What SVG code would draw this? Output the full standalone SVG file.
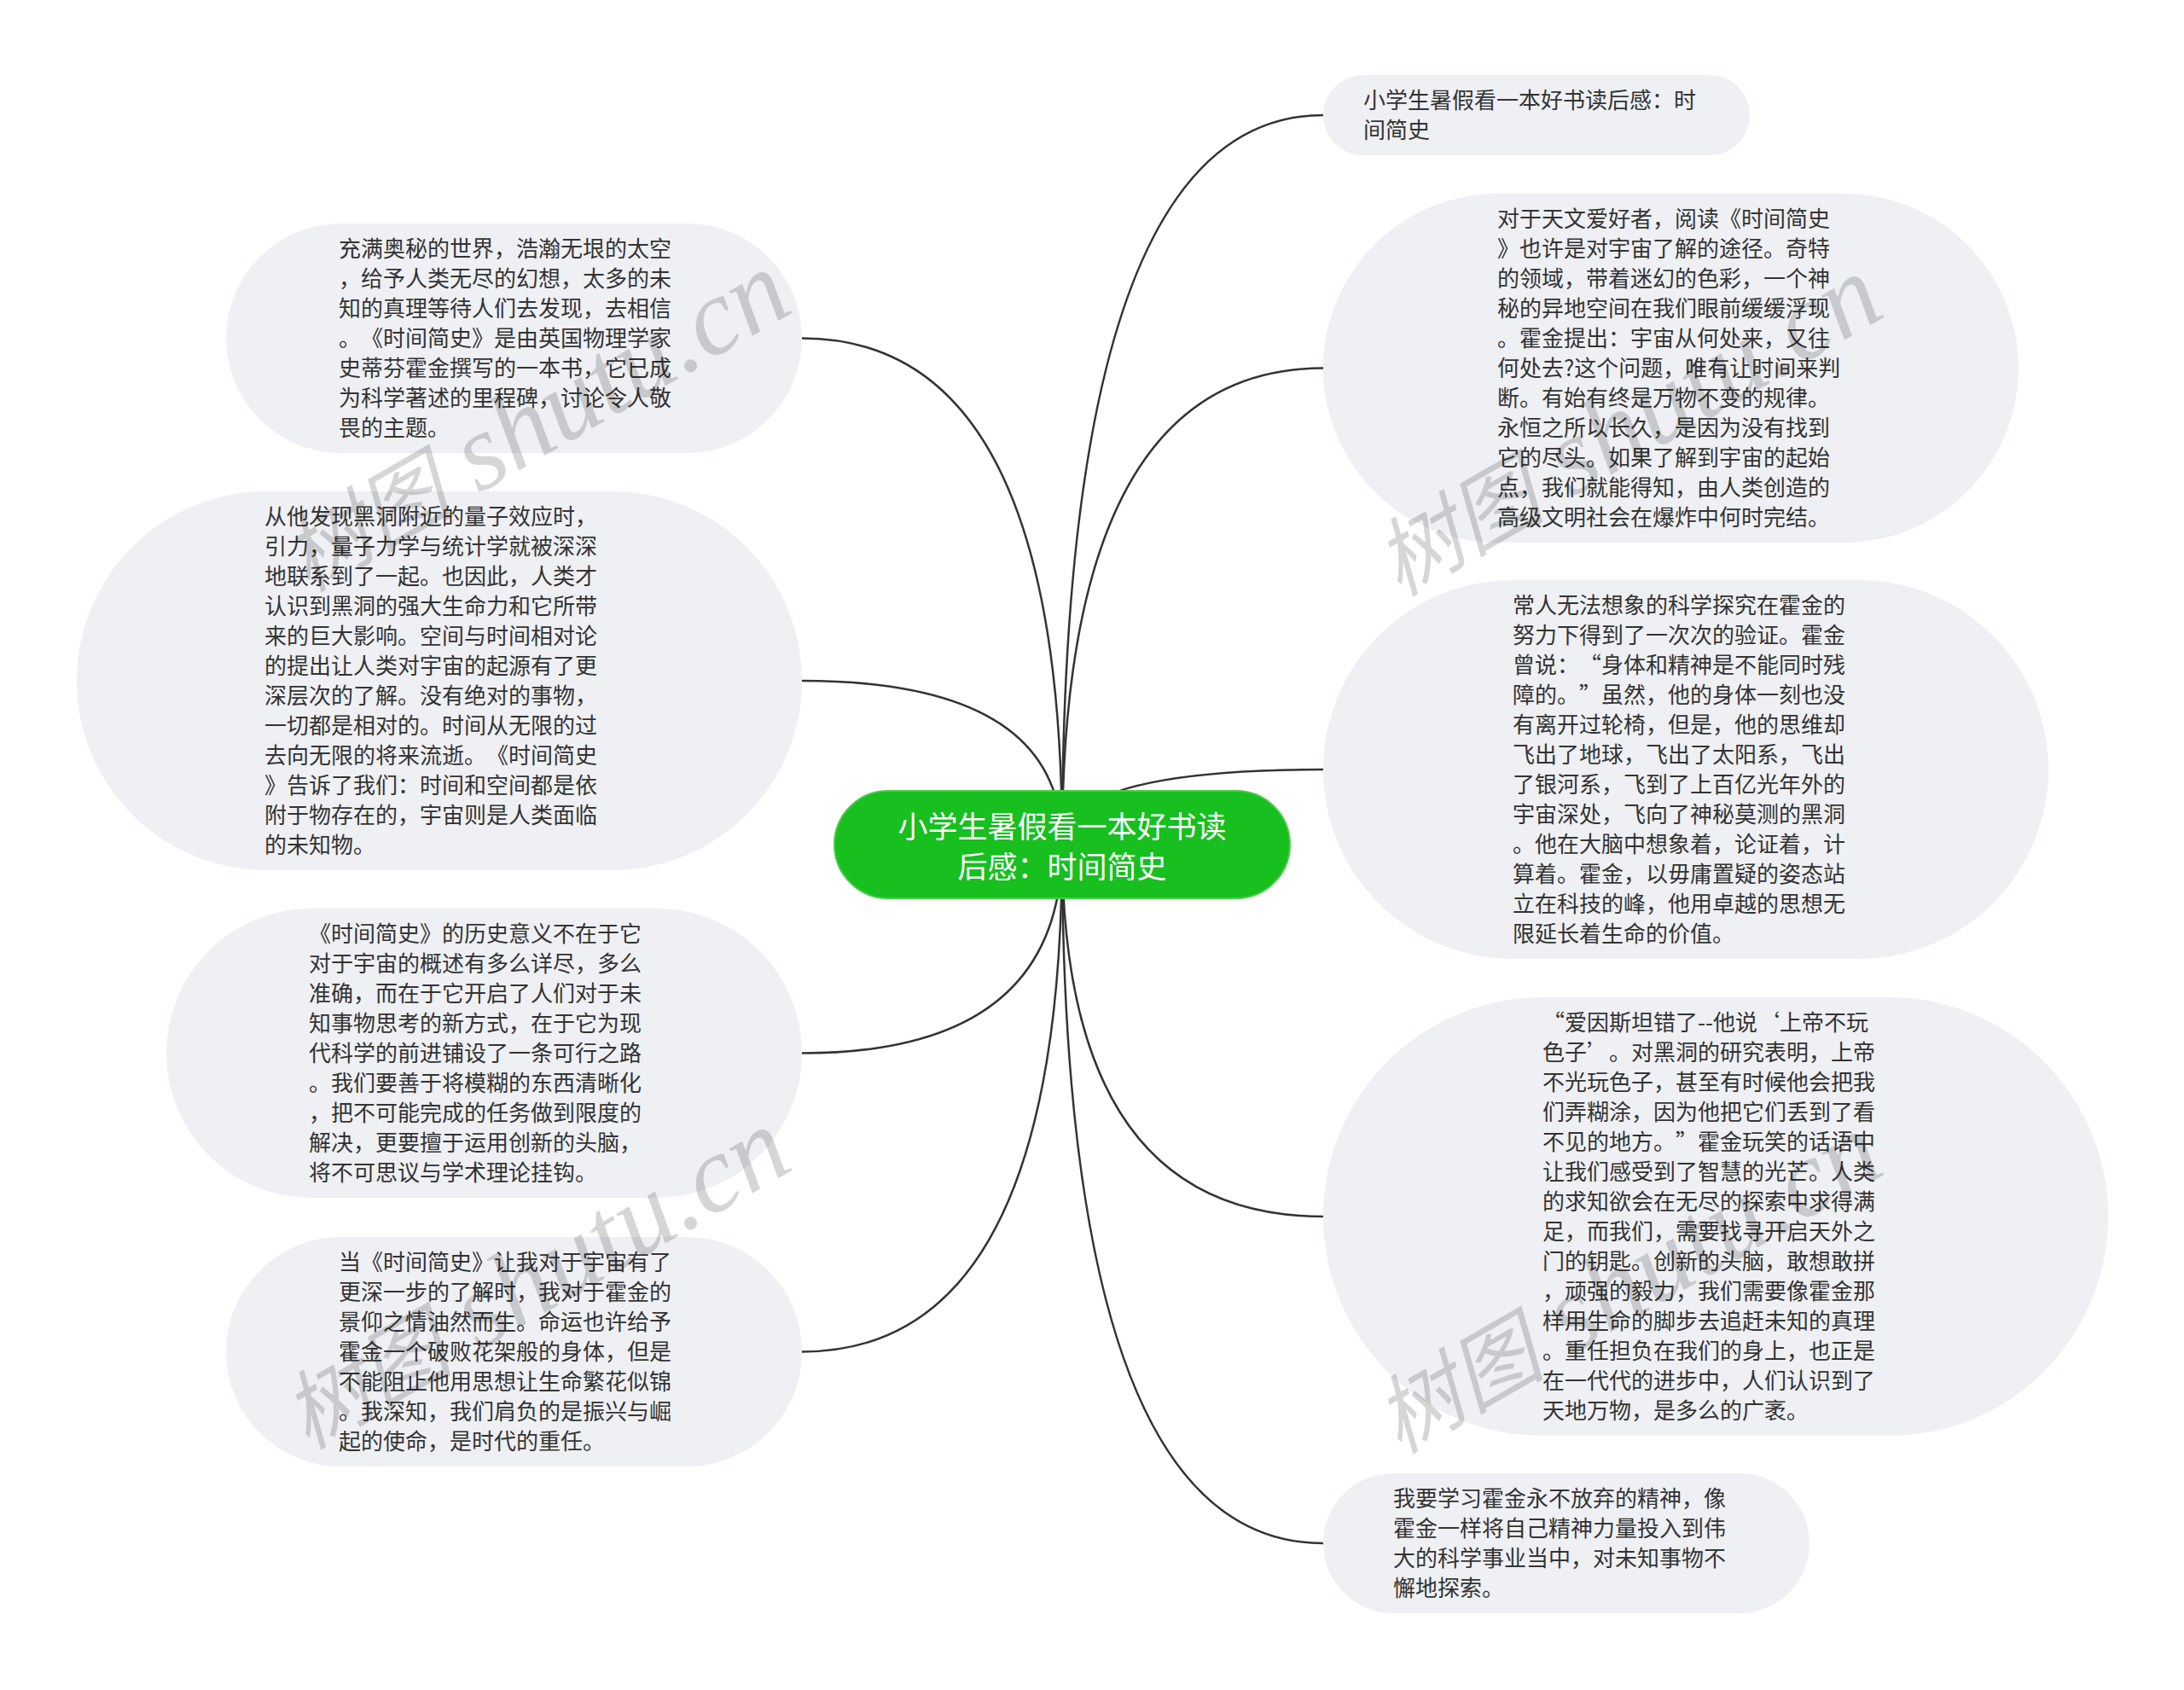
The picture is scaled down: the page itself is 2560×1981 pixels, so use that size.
<svg xmlns="http://www.w3.org/2000/svg" width="2560" height="1981" viewBox="0 0 2560 1981">
<style>
.node rect{fill:#eef0f3}
.t{font-family:"Noto Sans CJK SC","Liberation Sans",sans-serif;font-size:26px;fill:#333;text-spacing-trim:space-all}
.fw{font-feature-settings:"fwid" 1}
.root rect{fill:#17bf1f;stroke:#4ccb4c;stroke-width:2}
.rt{font-family:"Noto Sans CJK SC","Liberation Sans",sans-serif;font-size:35px;fill:#fff;text-anchor:middle;text-spacing-trim:space-all}
.links path{fill:none;stroke:#333;stroke-width:2.5}
.wm{font-family:"Liberation Serif","Noto Sans CJK SC",serif;font-style:italic;fill:#000;fill-opacity:0.16}
.wm .c{font-family:"Noto Sans CJK SC",sans-serif;font-size:100px}
.wm .l{font-size:128px}
</style>
<rect width="2560" height="1981" fill="#fff"/>
<g class="links">
<path d="M1245 990 Q1245 135 1551 135"/>
<path d="M1245 990 Q1245 431.5 1551 431.5"/>
<path d="M1245 990 Q1245 902 1551 902"/>
<path d="M1245 990 Q1245 1426 1551 1426"/>
<path d="M1245 990 Q1245 1809 1551 1809"/>
<path d="M1245 990 Q1245 396.5 940 396.5"/>
<path d="M1245 990 Q1245 798 940 798"/>
<path d="M1245 990 Q1245 1234.5 940 1234.5"/>
<path d="M1245 990 Q1245 1584.5 940 1584.5"/>
</g>
<g id="root" class="root">
<rect x="978" y="927" width="534" height="126" rx="63"/>
<text class="rt"><tspan x="1245" y="982">小学生暑假看一本好书读</tspan><tspan x="1245" y="1029">后感：时间简史</tspan></text>
</g>
<g id="r1" class="node">
<rect x="1551" y="88" width="500" height="94" rx="47"/>
<text class="t"><tspan x="1598" y="126.5">小学生暑假看一本好书读后感：时</tspan><tspan x="1598" y="161.5">间简史</tspan></text>
</g>
<g id="r2" class="node">
<rect x="1551" y="227" width="815" height="409" rx="204.5"/>
<text class="t">
<tspan x="1755" y="265.5">对于天文爱好者，阅读《时间简史</tspan>
<tspan x="1755" y="300.5">》也许是对宇宙了解的途径。奇特</tspan>
<tspan x="1755" y="335.5">的领域，带着迷幻的色彩，一个神</tspan>
<tspan x="1755" y="370.5">秘的异地空间在我们眼前缓缓浮现</tspan>
<tspan x="1755" y="405.5">。霍金提出：宇宙从何处来，又往</tspan>
<tspan x="1755" y="440.5">何处去?这个问题，唯有让时间来判</tspan>
<tspan x="1755" y="475.5">断。有始有终是万物不变的规律。</tspan>
<tspan x="1755" y="510.5">永恒之所以长久，是因为没有找到</tspan>
<tspan x="1755" y="545.5">它的尽头。如果了解到宇宙的起始</tspan>
<tspan x="1755" y="580.5">点，我们就能得知，由人类创造的</tspan>
<tspan x="1755" y="615.5">高级文明社会在爆炸中何时完结。</tspan>
</text>
</g>
<g id="r3" class="node">
<rect x="1551" y="680" width="850" height="444" rx="222"/>
<text class="t">
<tspan x="1773" y="718.5">常人无法想象的科学探究在霍金的</tspan>
<tspan x="1773" y="753.5">努力下得到了一次次的验证。霍金</tspan>
<tspan x="1773" y="788.5">曾说：<tspan class="fw">“</tspan>身体和精神是不能同时残</tspan>
<tspan x="1773" y="823.5">障的。<tspan class="fw">”</tspan>虽然，他的身体一刻也没</tspan>
<tspan x="1773" y="858.5">有离开过轮椅，但是，他的思维却</tspan>
<tspan x="1773" y="893.5">飞出了地球，飞出了太阳系，飞出</tspan>
<tspan x="1773" y="928.5">了银河系，飞到了上百亿光年外的</tspan>
<tspan x="1773" y="963.5">宇宙深处，飞向了神秘莫测的黑洞</tspan>
<tspan x="1773" y="998.5">。他在大脑中想象着，论证着，计</tspan>
<tspan x="1773" y="1033.5">算着。霍金，以毋庸置疑的姿态站</tspan>
<tspan x="1773" y="1068.5">立在科技的峰，他用卓越的思想无</tspan>
<tspan x="1773" y="1103.5">限延长着生命的价值。</tspan>
</text>
</g>
<g id="r4" class="node">
<rect x="1551" y="1169" width="920" height="514" rx="257"/>
<text class="t">
<tspan x="1808" y="1207.5"><tspan class="fw">“</tspan>爱因斯坦错了--他说<tspan class="fw">‘</tspan>上帝不玩</tspan>
<tspan x="1808" y="1242.5">色子<tspan class="fw">’</tspan>。对黑洞的研究表明，上帝</tspan>
<tspan x="1808" y="1277.5">不光玩色子，甚至有时候他会把我</tspan>
<tspan x="1808" y="1312.5">们弄糊涂，因为他把它们丢到了看</tspan>
<tspan x="1808" y="1347.5">不见的地方。<tspan class="fw">”</tspan>霍金玩笑的话语中</tspan>
<tspan x="1808" y="1382.5">让我们感受到了智慧的光芒。人类</tspan>
<tspan x="1808" y="1417.5">的求知欲会在无尽的探索中求得满</tspan>
<tspan x="1808" y="1452.5">足，而我们，需要找寻开启天外之</tspan>
<tspan x="1808" y="1487.5">门的钥匙。创新的头脑，敢想敢拼</tspan>
<tspan x="1808" y="1522.5">，顽强的毅力，我们需要像霍金那</tspan>
<tspan x="1808" y="1557.5">样用生命的脚步去追赶未知的真理</tspan>
<tspan x="1808" y="1592.5">。重任担负在我们的身上，也正是</tspan>
<tspan x="1808" y="1627.5">在一代代的进步中，人们认识到了</tspan>
<tspan x="1808" y="1662.5">天地万物，是多么的广袤。</tspan>
</text>
</g>
<g id="r5" class="node">
<rect x="1551" y="1727" width="570" height="164" rx="82"/>
<text class="t">
<tspan x="1633" y="1765.5">我要学习霍金永不放弃的精神，像</tspan>
<tspan x="1633" y="1800.5">霍金一样将自己精神力量投入到伟</tspan>
<tspan x="1633" y="1835.5">大的科学事业当中，对未知事物不</tspan>
<tspan x="1633" y="1870.5">懈地探索。</tspan>
</text>
</g>
<g id="l1" class="node">
<rect x="265" y="262" width="675" height="269" rx="134.5"/>
<text class="t">
<tspan x="397" y="300.5">充满奥秘的世界，浩瀚无垠的太空</tspan>
<tspan x="397" y="335.5">，给予人类无尽的幻想，太多的未</tspan>
<tspan x="397" y="370.5">知的真理等待人们去发现，去相信</tspan>
<tspan x="397" y="405.5">。《时间简史》是由英国物理学家</tspan>
<tspan x="397" y="440.5">史蒂芬霍金撰写的一本书，它已成</tspan>
<tspan x="397" y="475.5">为科学著述的里程碑，讨论令人敬</tspan>
<tspan x="397" y="510.5">畏的主题。</tspan>
</text>
</g>
<g id="l2" class="node">
<rect x="90" y="576" width="850" height="444" rx="222"/>
<text class="t">
<tspan x="310" y="614.5">从他发现黑洞附近的量子效应时，</tspan>
<tspan x="310" y="649.5">引力，量子力学与统计学就被深深</tspan>
<tspan x="310" y="684.5">地联系到了一起。也因此，人类才</tspan>
<tspan x="310" y="719.5">认识到黑洞的强大生命力和它所带</tspan>
<tspan x="310" y="754.5">来的巨大影响。空间与时间相对论</tspan>
<tspan x="310" y="789.5">的提出让人类对宇宙的起源有了更</tspan>
<tspan x="310" y="824.5">深层次的了解。没有绝对的事物，</tspan>
<tspan x="310" y="859.5">一切都是相对的。时间从无限的过</tspan>
<tspan x="310" y="894.5">去向无限的将来流逝。《时间简史</tspan>
<tspan x="310" y="929.5">》告诉了我们：时间和空间都是依</tspan>
<tspan x="310" y="964.5">附于物存在的，宇宙则是人类面临</tspan>
<tspan x="310" y="999.5">的未知物。</tspan>
</text>
</g>
<g id="l3" class="node">
<rect x="195" y="1065" width="745" height="339" rx="169.5"/>
<text class="t">
<tspan x="362" y="1103.5">《时间简史》的历史意义不在于它</tspan>
<tspan x="362" y="1138.5">对于宇宙的概述有多么详尽，多么</tspan>
<tspan x="362" y="1173.5">准确，而在于它开启了人们对于未</tspan>
<tspan x="362" y="1208.5">知事物思考的新方式，在于它为现</tspan>
<tspan x="362" y="1243.5">代科学的前进铺设了一条可行之路</tspan>
<tspan x="362" y="1278.5">。我们要善于将模糊的东西清晰化</tspan>
<tspan x="362" y="1313.5">，把不可能完成的任务做到限度的</tspan>
<tspan x="362" y="1348.5">解决，更要擅于运用创新的头脑，</tspan>
<tspan x="362" y="1383.5">将不可思议与学术理论挂钩。</tspan>
</text>
</g>
<g id="l4" class="node">
<rect x="265" y="1450" width="675" height="269" rx="134.5"/>
<text class="t">
<tspan x="397" y="1488.5">当《时间简史》让我对于宇宙有了</tspan>
<tspan x="397" y="1523.5">更深一步的了解时，我对于霍金的</tspan>
<tspan x="397" y="1558.5">景仰之情油然而生。命运也许给予</tspan>
<tspan x="397" y="1593.5">霍金一个破败花架般的身体，但是</tspan>
<tspan x="397" y="1628.5">不能阻止他用思想让生命繁花似锦</tspan>
<tspan x="397" y="1663.5">。我深知，我们肩负的是振兴与崛</tspan>
<tspan x="397" y="1698.5">起的使命，是时代的重任。</tspan>
</text>
</g>
<g id="watermark" class="wm">
<text transform="translate(360 695) rotate(-30)"><tspan class="c">树图</tspan><tspan class="l"> shutu.cn</tspan></text>
<text transform="translate(1640 700) rotate(-30)"><tspan class="c">树图</tspan><tspan class="l"> shutu.cn</tspan></text>
<text transform="translate(360 1700) rotate(-30)"><tspan class="c">树图</tspan><tspan class="l"> shutu.cn</tspan></text>
<text transform="translate(1640 1705) rotate(-30)"><tspan class="c">树图</tspan><tspan class="l"> shutu.cn</tspan></text>
</g>
</svg>
